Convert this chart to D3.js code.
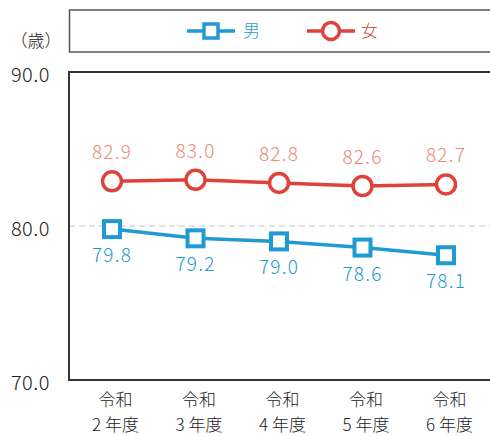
<!DOCTYPE html>
<html>
<head>
<meta charset="utf-8">
<script src="https://cdn.jsdelivr.net/npm/d3@7"></script>
<style>
  html, body { margin: 0; padding: 0; background: #fff; }
  svg { display: block; font-family: "Noto Sans CJK JP", "Noto Sans", sans-serif; font-weight: 300; }
</style>
</head>
<body>
<svg id="chart" width="490" height="436"></svg>
<script>
// 平均寿命の推移（令和2〜6年度）
const categories = ["令和\n2 年度", "令和\n3 年度", "令和\n4 年度", "令和\n5 年度", "令和\n6 年度"];
const male = [79.8, 79.2, 79.0, 78.6, 78.1];
const female = [82.9, 83.0, 82.8, 82.6, 82.7];
const yTicks = [70, 80, 90];
const seriesNames = ["男", "女"];
const unitLabel = "（歳）";

const colors = { male: "#1f9ad2", female: "#e0413a", femaleText: "#ee8a78", axis: "#333", text: "#222" };
const fontFamily = "'Noto Sans CJK JP', 'Noto Sans', sans-serif";

const svg = d3.select("#chart");
const plot = { left: 69, top: 72, bottom: 380 };

const x = d3.scalePoint()
  .domain(categories)
  .range([112, 446]);

const y = d3.scaleLinear()
  .domain([70, 90])
  .range([plot.bottom, plot.top]);

// 80.0 reference line
svg.append("line")
  .attr("x1", plot.left).attr("x2", 490)
  .attr("y1", y(80)).attr("y2", y(80))
  .attr("stroke", "#c4c4c4").attr("stroke-width", 1.2)
  .attr("stroke-dasharray", "6,4");

// Plot frame (open on the right)
svg.append("path")
  .attr("d", `M490,${plot.top}H${plot.left}V${plot.bottom}H490`)
  .attr("fill", "none").attr("stroke", colors.axis).attr("stroke-width", 2);

// Y axis tick labels
const yAxis = d3.axisLeft(y).tickValues(yTicks).tickFormat(d3.format(".1f")).tickSize(0).tickPadding(19);
const yg = svg.append("g").attr("transform", `translate(${plot.left},0)`).call(yAxis);
yg.attr("font-family", fontFamily).attr("font-size", 20);
yg.select(".domain").remove();
yg.selectAll("text").attr("fill", colors.text).attr("dy", "0.45em")
  .attr("font-weight", 300).attr("letter-spacing", 0.5);

// X axis category labels (two lines each)
const xAxis = d3.axisBottom(x).tickSize(0).tickFormat("");
const xg = svg.append("g").attr("transform", `translate(0,${plot.bottom})`).call(xAxis);
xg.attr("font-family", fontFamily);
xg.select(".domain").remove();
xg.selectAll(".tick").each(function (d) {
  const lines = d.split("\n");
  const t = d3.select(this).append("text")
    .attr("text-anchor", "middle")
    .attr("fill", colors.text)
    .attr("font-size", 17)
    .attr("font-weight", 300);
  lines.forEach((s, i) => {
    t.append("tspan").attr("x", 3).attr("y", 26 + i * 25).text(s);
  });
});

// Unit label
svg.append("text").attr("x", 36).attr("y", 47)
  .attr("text-anchor", "middle").attr("font-size", 17).attr("fill", colors.text)
  .text(unitLabel);

const line = d3.line().x((d, i) => x(categories[i])).y(d => y(d));

// Female series
svg.append("path").datum(female)
  .attr("d", line).attr("fill", "none")
  .attr("stroke", colors.female).attr("stroke-width", 3.5);
svg.selectAll(".fpt").data(female).join("circle")
  .attr("cx", (d, i) => x(categories[i])).attr("cy", d => y(d))
  .attr("r", 9.5).attr("fill", "#fff")
  .attr("stroke", colors.female).attr("stroke-width", 3.5);
svg.selectAll(".flab").data(female).join("text")
  .attr("x", (d, i) => x(categories[i])).attr("y", d => y(d) - 22)
  .attr("text-anchor", "middle").attr("font-size", 19).attr("letter-spacing", 1.2)
  .attr("fill", colors.femaleText)
  .text(d => d3.format(".1f")(d));

// Male series
svg.append("path").datum(male)
  .attr("d", line).attr("fill", "none")
  .attr("stroke", colors.male).attr("stroke-width", 3.5);
svg.selectAll(".mpt").data(male).join("rect")
  .attr("x", (d, i) => x(categories[i]) - 8).attr("y", d => y(d) - 8)
  .attr("width", 16).attr("height", 16).attr("fill", "#fff")
  .attr("stroke", colors.male).attr("stroke-width", 4);
svg.selectAll(".mlab").data(male).join("text")
  .attr("x", (d, i) => x(categories[i])).attr("y", d => y(d) + 33)
  .attr("text-anchor", "middle").attr("font-size", 19).attr("letter-spacing", 1.2)
  .attr("fill", colors.male)
  .text(d => d3.format(".1f")(d));

// Legend
svg.append("rect").attr("x", 69.5).attr("y", 10).attr("width", 440).attr("height", 42)
  .attr("fill", "#fff").attr("stroke", "#555").attr("stroke-width", 1.5);
const lg = svg.append("g");
// male entry
lg.append("line").attr("x1", 187).attr("x2", 235).attr("y1", 31).attr("y2", 31)
  .attr("stroke", colors.male).attr("stroke-width", 3.5);
lg.append("rect").attr("x", 204).attr("y", 24).attr("width", 14).attr("height", 14)
  .attr("fill", "#fff").attr("stroke", colors.male).attr("stroke-width", 3.5);
lg.append("text").attr("x", 243).attr("y", 37).attr("font-size", 17)
  .attr("fill", colors.male).text(seriesNames[0]);
// female entry
lg.append("line").attr("x1", 307).attr("x2", 355).attr("y1", 31).attr("y2", 31)
  .attr("stroke", colors.female).attr("stroke-width", 3.5);
lg.append("circle").attr("cx", 331).attr("cy", 31).attr("r", 8.5)
  .attr("fill", "#fff").attr("stroke", colors.female).attr("stroke-width", 3.5);
lg.append("text").attr("x", 361).attr("y", 37).attr("font-size", 17)
  .attr("fill", colors.female).text(seriesNames[1]);
</script>
</body>
</html>
